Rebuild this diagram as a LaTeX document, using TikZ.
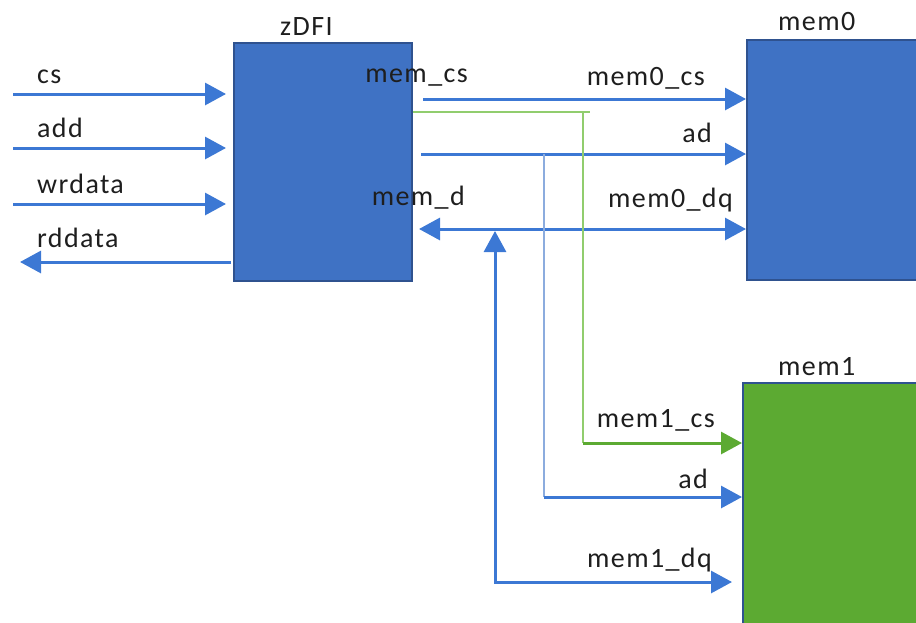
\documentclass[tikz,border=0pt]{standalone}
\usepackage{fontspec}
\setmainfont[LetterSpace=5]{Carlito}
\usepackage{xcolor}
\usetikzlibrary{arrows.meta}
\definecolor{boxblue}{RGB}{63,114,196}
\definecolor{edgeblue}{RGB}{47,82,143}
\definecolor{lineblue}{RGB}{60,120,212}
\definecolor{thinblue}{RGB}{140,172,222}
\definecolor{boxgreen}{RGB}{92,170,50}
\definecolor{thingreen}{RGB}{145,205,110}
\definecolor{labelgray}{RGB}{30,30,30}
\tikzset{
  block/.style={draw=edgeblue,line width=2pt,fill=boxblue,minimum width=178pt,minimum height=238pt,inner sep=0pt},
  sig/.style={draw=lineblue,line width=3pt,-{Triangle[length=21pt,width=22pt]}},
  sigboth/.style={sig,{Triangle[length=21pt,width=22pt]}-{Triangle[length=21pt,width=22pt]}},
  wire/.style={draw=thinblue,line width=1.5pt},
  lbl/.style={text=labelgray,font=\fontsize{28}{32}\selectfont,inner sep=0pt},
}

\begin{document}
\begin{tikzpicture}[x=1pt,y=-1pt]
\useasboundingbox (0,0) rectangle (916,622);
\clip (0,0) rectangle (916,622);
% create the blocks
\node[block] (zdfi) at (323,162) {};
\node[block,minimum width=185pt,minimum height=240pt] (memzero) at (839.5,160) {};
\node[block,fill=boxgreen,minimum width=185pt,minimum height=250pt] (memone) at (835.5,508) {};
\node[lbl,anchor=base west] (zdfilbl) at (280,35) {zDFI};
\node[lbl,anchor=base west] (memzerolbl) at (778,30) {mem0};
\node[lbl,anchor=base west] (memonelbl) at (778,375) {mem1};
% inputs on the left
\foreach \y/\t/\n in {94/cs/cs,148/add/add,204/wrdata/wr}{
  \coordinate (\n) at (13,\y);
  \draw[sig,shorten >=7pt] (\n) -- (\n -| zdfi.west);
  \node[lbl,anchor=base west] (\n lbl) at (37,\y-11) {\t};
}
\coordinate (rd) at (20,262);
\draw[sig,shorten <=2pt] (rd -| zdfi.west) -- (rd);
\node[lbl,anchor=base west] (rdlbl) at (37,247) {rddata};
% branch points
\coordinate (csrow) at (423,99);
\coordinate (csfork) at (583,112);
\coordinate (adfork) at (544,154);
\coordinate (dqfork) at (495,229);
\coordinate (cstap) at (583,443);
\coordinate (adtap) at (544,497);
\coordinate (dqtap) at (495,582);
% to mem0
\draw[sig] (csrow) -- (csrow -| memzero.west);
\draw[sig,shorten <=8pt] (zdfi.east |- adfork) -- (adfork -| memzero.west);
\draw[sigboth,shorten <=6pt] (zdfi.east |- dqfork) -- (dqfork -| memzero.west);
% to mem1
\draw[draw=thingreen,line width=1.5pt] (zdfi.east |- csfork) -- ++(177,0);
\draw[draw=thingreen,line width=1.5pt] (csfork) -- (cstap);
\draw[sig,draw=boxgreen] (cstap) -- (cstap -| memone.west);
\draw[wire] (adfork) -- (adtap);
\draw[sig] (adtap) -- (adtap -| memone.west);
\draw[sigboth,shorten >=10pt] ([yshift=-2pt]dqfork) -- (dqtap) -- (dqtap -| memone.west);
% labels
\node[lbl,anchor=base east] (memcslbl) at (468,82) {mem\_cs};
\node[lbl,anchor=base east] (memzerocslbl) at (705,85) {mem0\_cs};
\node[lbl,anchor=base east] (adzerolbl) at (712,142) {ad};
\node[lbl,anchor=base east] (memdlbl) at (465,205) {mem\_d};
\node[lbl,anchor=base east] (memzerodqlbl) at (733,207) {mem0\_dq};
\node[lbl,anchor=base east] (memonecslbl) at (715,427) {mem1\_cs};
\node[lbl,anchor=base east] (adonelbl) at (708,488) {ad};
\node[lbl,anchor=base east] (memonedqlbl) at (712,567) {mem1\_dq};
\end{tikzpicture}
\end{document}
